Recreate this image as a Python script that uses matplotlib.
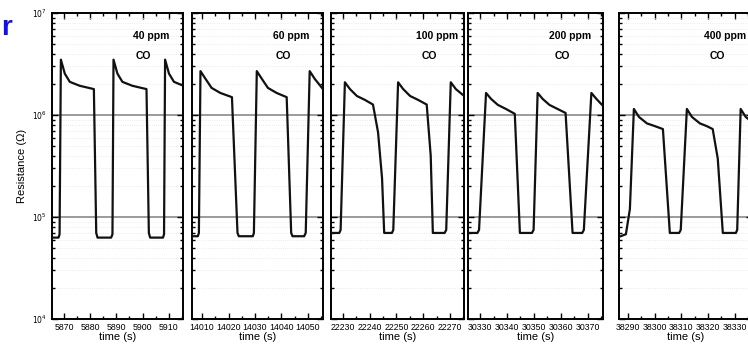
import matplotlib
matplotlib.use("Agg")
import matplotlib.pyplot as plt
from matplotlib.ticker import LogLocator, MultipleLocator, NullFormatter, FixedLocator

plt.rcParams['font.family'] = ['Liberation Sans', 'DejaVu Sans']

# panel labels
conc = ["40 ppm", "60 ppm", "100 ppm", "200 ppm", "400 ppm"]

# time (s) / resistance (ohm)
t40 = [5865.4, 5867.9, 5868.3, 5868.8, 5870.3, 5872.2, 5876.0, 5881.4, 5882.3, 5882.8,
       5888.0, 5888.5, 5888.9, 5890.4, 5892.3, 5896.1, 5901.5, 5902.4, 5902.9,
       5907.8, 5908.2, 5908.6, 5910.1, 5912.0, 5915.4]
r40 = [6.3e4, 6.3e4, 6.8e4, 3.5e6, 2.55e6, 2.12e6, 1.94e6, 1.8e6, 7e4, 6.3e4,
       6.3e4, 6.8e4, 3.5e6, 2.55e6, 2.12e6, 1.94e6, 1.8e6, 7e4, 6.3e4,
       6.3e4, 6.8e4, 3.5e6, 2.55e6, 2.12e6, 1.95e6]

t60 = [14006.2, 14008.4, 14008.8, 14009.4, 14011.3, 14013.6, 14016.9, 14021.3, 14023.4, 14023.9,
       14029.2, 14029.6, 14030.7, 14032.6, 14034.9, 14038.2, 14042.0, 14043.7, 14044.2,
       14048.6, 14049.2, 14050.7, 14052.6, 14055.7]
r60 = [6.5e4, 6.5e4, 7e4, 2.7e6, 2.27e6, 1.85e6, 1.65e6, 1.5e6, 7e4, 6.5e4,
       6.5e4, 7e4, 2.7e6, 2.27e6, 1.85e6, 1.65e6, 1.5e6, 7e4, 6.5e4,
       6.5e4, 7e4, 2.7e6, 2.27e6, 1.8e6]

t100 = [22225.5, 22228.6, 22229.1, 22230.7, 22232.6, 22235.2, 22238.2, 22241.2, 22243.1, 22244.6, 22245.4,
        22248.3, 22248.8, 22250.6, 22252.5, 22255.1, 22258.1, 22261.3, 22262.8, 22263.6,
        22268.0, 22268.6, 22270.3, 22272.2, 22275.2]
r100 = [7e4, 7e4, 7.5e4, 2.1e6, 1.8e6, 1.54e6, 1.41e6, 1.27e6, 6.8e5, 2.4e5, 7e4,
        7e4, 7.5e4, 2.1e6, 1.8e6, 1.54e6, 1.41e6, 1.27e6, 4e5, 7e4,
        7e4, 7.5e4, 2.1e6, 1.8e6, 1.55e6]

t200 = [30325.5, 30329.0, 30329.6, 30332.2, 30334.1, 30336.6, 30339.6, 30342.9, 30344.8,
        30349.3, 30349.9, 30351.4, 30353.3, 30355.8, 30358.8, 30361.8, 30364.4,
        30368.0, 30368.6, 30371.4, 30373.3, 30375.5]
r200 = [7e4, 7e4, 7.5e4, 1.65e6, 1.44e6, 1.26e6, 1.15e6, 1.03e6, 7e4,
        7e4, 7.5e4, 1.65e6, 1.44e6, 1.26e6, 1.15e6, 1.05e6, 7e4,
        7e4, 7.5e4, 1.65e6, 1.44e6, 1.25e6]

t400 = [38286.6, 38289.2, 38290.7, 38292.2, 38294.1, 38297.1, 38300.1, 38303.1, 38305.7,
        38309.2, 38309.8, 38312.1, 38314.0, 38317.0, 38319.6, 38321.8, 38323.7, 38325.6,
        38330.5, 38331.0, 38332.3, 38334.2, 38337.2]
r400 = [6.4e4, 6.8e4, 1.2e5, 1.15e6, 9.6e5, 8.3e5, 7.8e5, 7.3e5, 7e4,
        7e4, 7.5e4, 1.15e6, 9.6e5, 8.3e5, 7.8e5, 7.3e5, 3.75e5, 7e4,
        7e4, 7.5e4, 1.15e6, 9.6e5, 8.3e5]

times = [t40, t60, t100, t200, t400]
resist = [r40, r60, r100, r200, r400]
xlims = [(5865.4, 5915.4), (14006.2, 14055.7), (22225.5, 22275.3), (30325.5, 30375.6), (38286.6, 38336.6)]
xticks = [[5870, 5880, 5890, 5900, 5910],
          [14010, 14020, 14030, 14040, 14050],
          [22230, 22240, 22250, 22260, 22270],
          [30330, 30340, 30350, 30360, 30370],
          [38290, 38300, 38310, 38320, 38330]]

# axes boxes in figure fraction (left, width)
boxes = [(0.0695, 0.175), (0.2567, 0.175), (0.4425, 0.178), (0.6257, 0.180), (0.8275, 0.178)]
# label positions (axes fraction)
lab_x = [0.76, 0.76, 0.80, 0.76, 0.80]

fig = plt.figure(figsize=(7.48, 3.55), dpi=100)
bot, hgt = 0.101, 0.862

for i in range(5):
    ax = fig.add_axes([boxes[i][0], bot, boxes[i][1], hgt])
    ax.set_yscale('log')
    ax.set_ylim(1e4, 1e7)
    ax.set_xlim(*xlims[i])
    ax.plot(times[i], resist[i], color='#111111', lw=1.6, solid_joinstyle='round', zorder=3)

    for lvl in [1e5, 1e6]:
        ax.axhline(lvl, color='#8a8a8a', lw=1.2, zorder=1)
    ax.yaxis.set_minor_locator(LogLocator(base=10, subs=range(2, 10)))
    ax.yaxis.set_minor_formatter(NullFormatter())
    ax.grid(True, which='minor', axis='y', color='#e4e4e4', lw=0.6, ls=':', zorder=0)

    ax.xaxis.set_major_locator(FixedLocator(xticks[i]))
    ax.xaxis.set_minor_locator(MultipleLocator(5))
    ax.tick_params(which='both', direction='in', top=True, right=True, width=1.0)
    ax.tick_params(which='major', length=4)
    ax.tick_params(which='minor', length=2)
    ax.tick_params(axis='x', labelsize=6.3, pad=2.5)
    for s in ax.spines.values():
        s.set_linewidth(1.4)

    if i == 0:
        ax.set_yticks([1e4, 1e5, 1e6, 1e7])
        ax.set_yticklabels(['$10^4$', '$10^5$', '$10^6$', '$10^7$'], fontsize=5.5)
        ax.set_ylabel('Resistance (Ω)', fontsize=8, labelpad=4)
    else:
        ax.set_yticklabels([])
    ax.set_xlabel('time (s)', fontsize=8, labelpad=0.5)

    ax.text(lab_x[i], 0.925, conc[i], transform=ax.transAxes, ha='center', va='center',
            fontsize=7.5, fontweight='bold')
    ax.text(lab_x[i] - 0.06, 0.86, 'CO', transform=ax.transAxes, ha='center', va='center',
            fontsize=7.5, fontweight='bold')

fig.text(0.001, 0.92, 'r', color='#1010ee', fontsize=20, fontweight='bold', ha='left', va='center')

fig.savefig('out.png', dpi=100)
